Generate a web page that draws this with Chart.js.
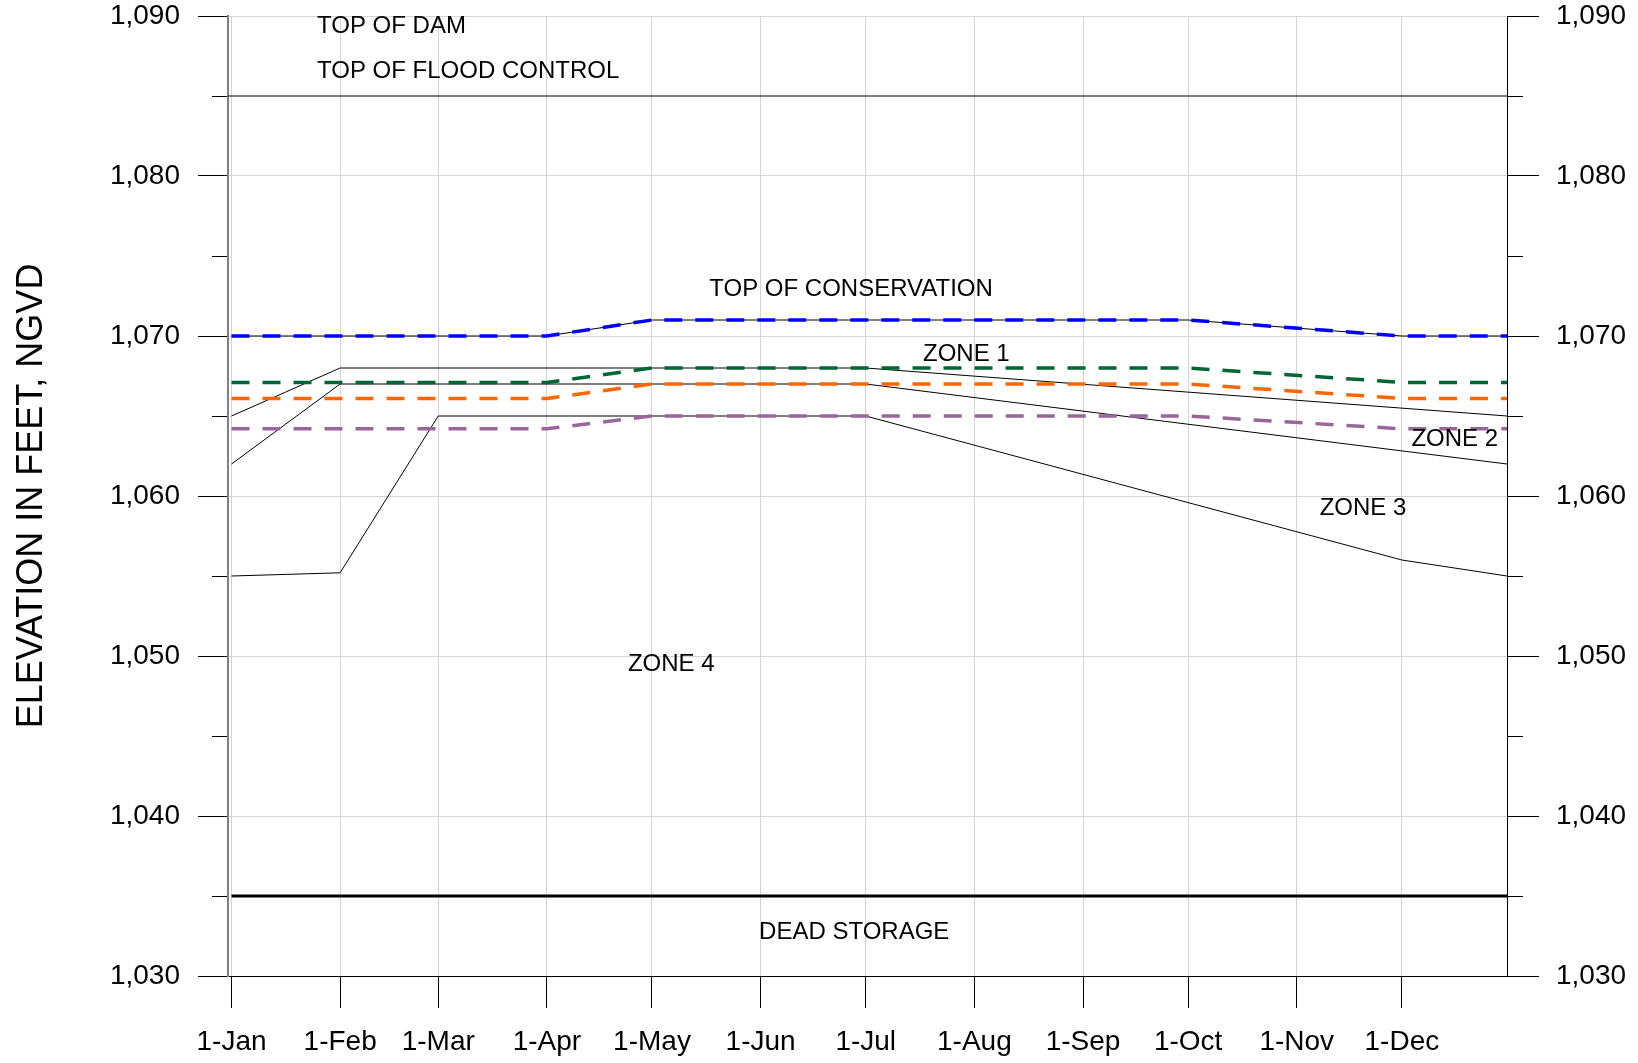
<!DOCTYPE html>
<html>
<head>
<meta charset="utf-8">
<title>Reservoir guide curves</title>
<script src="https://cdn.jsdelivr.net/npm/chart.js@4.4.1/dist/chart.umd.min.js"></script>
<style>
  body { margin: 0; background: #fff; }
</style>
</head>
<body>
<canvas id="myChart" width="1638" height="1063"></canvas>
<script>
// x axis is day of year, ticks at first of each month
const monthDays = [0, 31, 59, 90, 120, 151, 181, 212, 243, 273, 304, 334];
const monthLabels = ['1-Jan', '1-Feb', '1-Mar', '1-Apr', '1-May', '1-Jun',
  '1-Jul', '1-Aug', '1-Sep', '1-Oct', '1-Nov', '1-Dec'];
const minorElev = [1035, 1045, 1055, 1065, 1075, 1085];

// dashed guide curves
const guideDays = [0, 90, 120, 273, 334, 364];
const topConservation = [1070, 1070, 1071, 1071, 1070, 1070];
const greenCurve = [1067.1, 1067.1, 1068, 1068, 1067.1, 1067.1];
const orangeCurve = [1066.1, 1066.1, 1067, 1067, 1066.1, 1066.1];
const purpleCurve = [1064.2, 1064.2, 1065, 1065, 1064.2, 1064.2];

// zone boundaries (thin black)
const zoneDays = [0, 31, 181, 364];
const zone1Bottom = [1065, 1068, 1068, 1065];
const zone2Bottom = [1062, 1067, 1067, 1062];
const zone3Days = [0, 31, 59, 181, 334, 364];
const zone3Bottom = [1055, 1055.2, 1065, 1065, 1056, 1055];

const floodDays = [-1, 364];
const floodControl = [1085, 1085];
const deadDays = [0, 364];
const deadStorage = [1035, 1035];

function pts(xs, ys) {
  return xs.map((x, i) => ({x: x, y: ys[i]}));
}

function line(data, color, width, dash, order) {
  return {
    data: data,
    borderColor: color,
    borderWidth: width,
    borderDash: dash,
    pointRadius: 0,
    tension: 0,
    fill: false,
    order: order
  };
}

const data = {
  datasets: [
    line(pts(guideDays, topConservation), '#0000ff', 3.5, [18, 13], 0),
    line(pts(guideDays, greenCurve), '#006633', 3.5, [18, 13], 0),
    line(pts(guideDays, orangeCurve), '#ff6600', 3.5, [18, 13], 0),
    line(pts(guideDays, purpleCurve), '#996699', 3.5, [18, 13], 0),
    line(pts(guideDays, topConservation), '#000000', 1, [], 1),
    line(pts(zoneDays, zone1Bottom), '#000000', 1, [], 1),
    line(pts(zoneDays, zone2Bottom), '#000000', 1, [], 1),
    line(pts(zone3Days, zone3Bottom), '#000000', 1, [], 1),
    line(pts(floodDays, floodControl), '#000000', 1, [], 1),
    line(pts(deadDays, deadStorage), '#000000', 3, [], 1)
  ]
};

// text written on the plot, placed in data units
const notes = [
  {text: 'TOP OF DAM', x: 24.4, y: 1089.35, align: 'left'},
  {text: 'TOP OF FLOOD CONTROL', x: 24.4, y: 1086.55, align: 'left'},
  {text: 'TOP OF CONSERVATION', x: 176.8, y: 1072.9, align: 'center'},
  {text: 'ZONE 1', x: 209.7, y: 1068.85, align: 'center'},
  {text: 'ZONE 2', x: 349.1, y: 1063.55, align: 'center'},
  {text: 'ZONE 3', x: 322.9, y: 1059.2, align: 'center'},
  {text: 'ZONE 4', x: 125.5, y: 1049.5, align: 'center'},
  {text: 'DEAD STORAGE', x: 177.7, y: 1032.7, align: 'center'}
];

const tickFont = {family: '"Liberation Sans", Arial, sans-serif', size: 28};
const fmt = v => v.toLocaleString('en-US');

const extras = {
  id: 'extras',
  afterDraw(chart) {
    const ctx = chart.ctx;
    const xs = chart.scales.x;
    const ys = chart.scales.y;
    const area = chart.chartArea;
    ctx.save();
    // minor ticks on both sides
    ctx.strokeStyle = '#000';
    ctx.lineWidth = 1;
    minorElev.forEach(v => {
      const py = Math.round(ys.getPixelForValue(v)) + 0.5;
      ctx.beginPath();
      ctx.moveTo(area.left - 16, py);
      ctx.lineTo(area.left - 1, py);
      ctx.moveTo(area.right, py);
      ctx.lineTo(area.right + 16, py);
      ctx.stroke();
    });
    ctx.fillStyle = '#000';
    ctx.textBaseline = 'middle';
    // month labels under the x axis
    ctx.font = '28px "Liberation Sans", Arial, sans-serif';
    ctx.textAlign = 'center';
    monthDays.forEach((d, i) => {
      ctx.fillText(monthLabels[i], xs.getPixelForValue(d), area.bottom + 66);
    });
    ctx.font = '24px "Liberation Sans", Arial, sans-serif';
    notes.forEach(n => {
      ctx.textAlign = n.align;
      ctx.fillText(n.text, xs.getPixelForValue(n.x), ys.getPixelForValue(n.y));
    });
    ctx.restore();
  }
};

const config = {
  type: 'line',
  data: data,
  options: {
    responsive: false,
    animation: false,
    devicePixelRatio: 1,
    layout: {padding: {top: 16, left: 0, right: 0, bottom: 0}},
    plugins: {legend: {display: false}, tooltip: {enabled: false}},
    scales: {
      x: {
        type: 'linear',
        min: -1,
        max: 364,
        afterBuildTicks: s => { s.ticks = monthDays.map(v => ({value: v})); },
        afterFit: s => { s.height = 87; s.paddingLeft = 0; s.paddingRight = 0; },
        ticks: {display: false, autoSkip: false, maxRotation: 0},
        grid: {color: '#d4d4d4', tickColor: '#000', tickLength: 32, lineWidth: 1},
        border: {color: '#000', width: 1}
      },
      y: {
        position: 'left',
        min: 1030,
        max: 1090,
        afterFit: s => { s.width = 228; s.paddingTop = 0; s.paddingBottom = 0; },
        ticks: {stepSize: 10, padding: 18, color: '#000', font: tickFont, callback: fmt},
        grid: {
          color: c => (c.tick && c.tick.value === 1030) ? 'rgba(0,0,0,0)' : '#d4d4d4',
          tickColor: '#000', tickLength: 30
        },
        border: {color: '#808080', width: 2},
        title: {
          display: true,
          text: 'ELEVATION IN FEET, NGVD',
          color: '#000',
          font: {family: '"Liberation Sans", Arial, sans-serif', size: 36},
          padding: {top: 10, bottom: 0}
        }
      },
      y2: {
        position: 'right',
        min: 1030,
        max: 1090,
        afterFit: s => { s.width = 131; s.paddingTop = 0; s.paddingBottom = 0; },
        ticks: {stepSize: 10, padding: 17, color: '#000', font: tickFont, callback: fmt},
        grid: {drawOnChartArea: false, tickColor: '#000', tickLength: 32},
        border: {color: '#000', width: 1}
      }
    }
  },
  plugins: [extras]
};

const myChart = new Chart(document.getElementById('myChart'), config);
</script>
</body>
</html>
